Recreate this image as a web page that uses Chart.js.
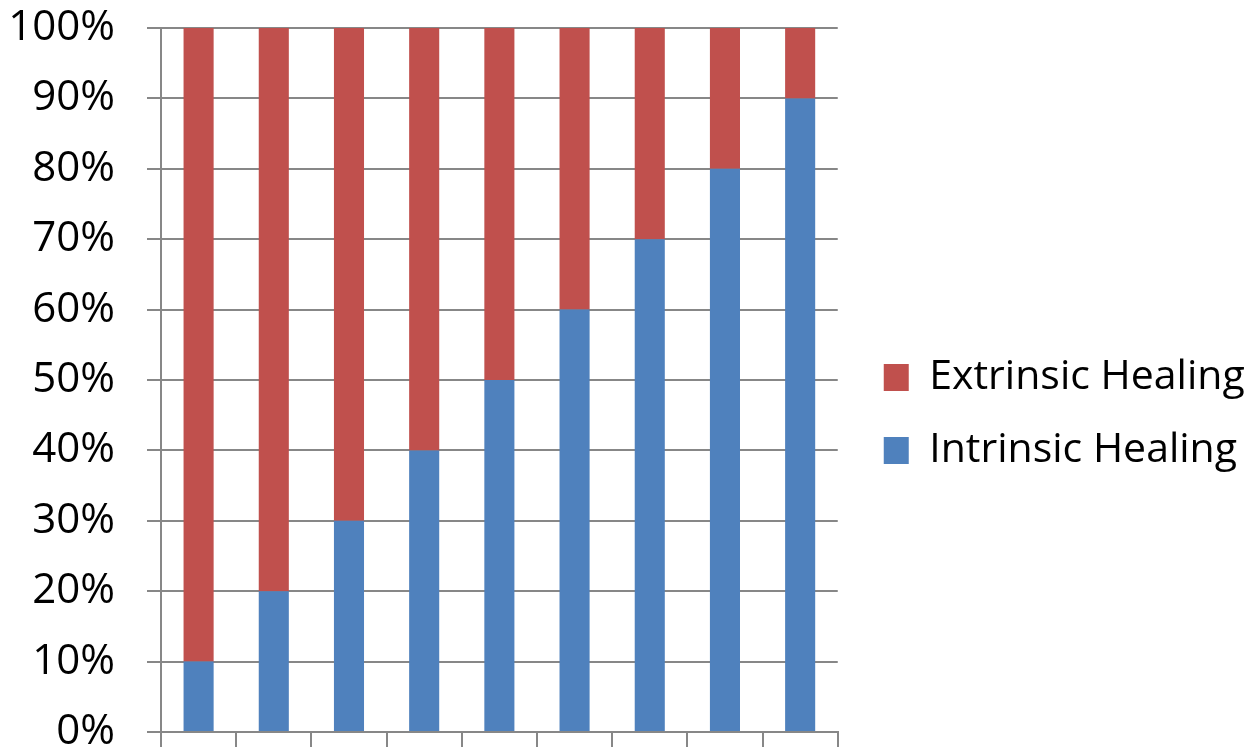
<!DOCTYPE html>
<html>
<head>
<meta charset="utf-8">
<script src="https://cdn.jsdelivr.net/npm/chart.js@4.4.1/dist/chart.umd.min.js"></script>
<style>
  html, body { margin: 0; padding: 0; background: #ffffff; }
  #wrap { width: 1251px; height: 751px; position: relative; }
</style>
</head>
<body>
<div id="wrap"><canvas id="healingChart"></canvas></div>
<script>
// categories have no labels in the original chart
var categories = ["", "", "", "", "", "", "", "", ""]
var intrinsicValues = [10, 20, 30, 40, 50, 60, 70, 80, 90]
var extrinsicValues = [90, 80, 70, 60, 50, 40, 30, 20, 10]
var yTicks = [0, 10, 20, 30, 40, 50, 60, 70, 80, 90, 100]

var gridGray = "#878787"

// the legend box is capped at a quarter of the width by the layout,
// so move it a bit right and let it run to the canvas edge
var legendShift = {
  id: "legendShift",
  afterLayout(chart) {
    var lg = chart.legend
    lg.left = chart.chartArea.right + 14
    lg.right = chart.width
    lg.width = lg.right - lg.left
  },
}

document.addEventListener("DOMContentLoaded", () => {
  var ctx = document.getElementById("healingChart").getContext("2d")
  var chart = new Chart(ctx, {
    type: "bar",
    data: {
      labels: categories,
      datasets: [
        {
          label: "Intrinsic Healing",
          data: intrinsicValues,
          backgroundColor: "#4F81BD",
          borderWidth: 0,
          barPercentage: 0.5,
          categoryPercentage: 0.8,
        },
        {
          label: "Extrinsic Healing",
          data: extrinsicValues,
          backgroundColor: "#C0504D",
          borderWidth: 0,
          barPercentage: 0.5,
          categoryPercentage: 0.8,
        },
      ],
    },
    options: {
      responsive: true,
      maintainAspectRatio: false,
      animation: false,
      layout: {
        padding: { top: 28, bottom: 4, left: 12, right: 138 },
      },
      scales: {
        x: {
          stacked: true,
          offset: true,
          grid: {
            offset: true,
            drawOnChartArea: false,
            drawTicks: true,
            tickLength: 15,
            color: gridGray,
            lineWidth: 2,
          },
          border: { display: true, color: gridGray, width: 2 },
          ticks: { display: false },
        },
        y: {
          stacked: true,
          min: 0,
          max: 100,
          afterBuildTicks: (axis) => {
            axis.ticks = yTicks.map((v) => ({ value: v }))
          },
          afterFit: (axis) => {
            // fixed axis width, and no extra top/bottom room from tick padding
            axis.width = 149
            axis.paddingTop = 0
            axis.paddingBottom = 0
          },
          grid: {
            color: gridGray,
            lineWidth: 2,
            tickLength: 14,
          },
          border: { display: true, color: gridGray, width: 2 },
          ticks: {
            padding: 32,
            color: "#000000",
            font: { family: "'Open Sans', sans-serif", size: 42 },
            callback: (v) => v + "%",
          },
        },
      },
      plugins: {
        legend: {
          display: true,
          position: "right",
          reverse: true,
          title: {
            display: true,
            text: "",
            font: { size: 11, lineHeight: 1 },
            padding: { top: 21, bottom: 21 },
          },
          labels: {
            boxWidth: 25,
            boxHeight: 27,
            padding: 32,
            color: "#000000",
            font: { family: "'Open Sans', sans-serif", size: 41 },
          },
        },
        tooltip: { enabled: false },
      },
    },
    plugins: [legendShift],
  })
})
</script>
</body>
</html>
